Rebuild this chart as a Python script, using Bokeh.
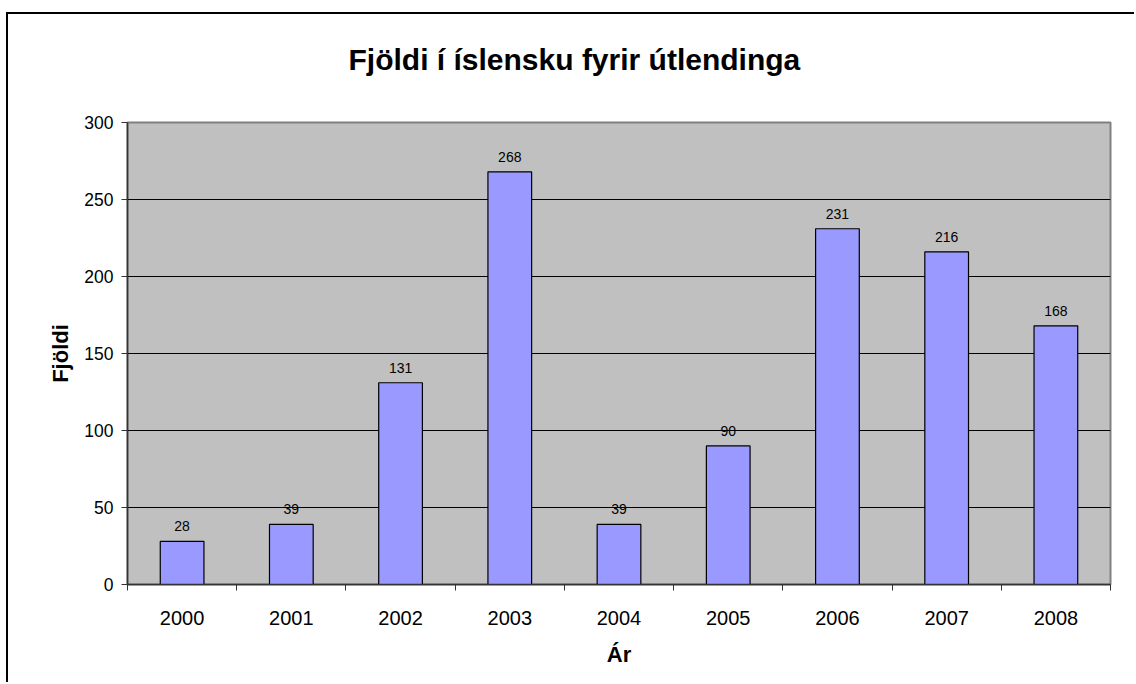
from bokeh.plotting import figure
from bokeh.models import Range1d, FixedTicker, ColumnDataSource, LabelSet, Title
from bokeh.core.properties import value
from bokeh.embed import file_html
from bokeh.resources import INLINE

title_text = "Fjöldi í íslensku fyrir útlendinga"
years = ["2000", "2001", "2002", "2003", "2004", "2005", "2006", "2007", "2008"]
counts = [28, 39, 131, 268, 39, 90, 231, 216, 168]
y_ticks = [0, 50, 100, 150, 200, 250, 300]

xpos = [i + 0.5 for i in range(len(years))]
src = ColumnDataSource(dict(x=xpos, top=counts, label=[str(c) for c in counts]))

p = figure(width=1128, height=670, output_backend="svg", toolbar_location=None,
           x_range=Range1d(0, len(years)), y_range=Range1d(0, 300),
           min_border_left=119, min_border_right=26, min_border_top=108, min_border_bottom=100,
           margin=(12, 0, 0, 6),
           styles={"border-left": "2px solid black", "border-top": "2px solid black"})

p.background_fill_color = "#C0C0C0"
p.border_fill_color = "white"
p.outline_line_color = "#808080"
p.outline_line_width = 2

spacer = Title(text=" ", text_font="Liberation Sans", text_font_size="18px",
               standoff=25, text_color="white")
p.add_layout(spacer, "above")
main_title = Title(text=title_text, text_font="Liberation Sans", text_font_size="30px",
                   text_font_style="bold", text_color="black", align="left",
                   offset=221, standoff=0)
p.add_layout(main_title, "above")

p.vbar(x="x", top="top", width=0.4, bottom=0, source=src,
       fill_color="#9999FF", line_color="black", line_width=1.2)

labels = LabelSet(x="x", y="top", text="label", source=src, text_align="center",
                  text_baseline="bottom", y_offset=10, text_font=value("Liberation Sans"),
                  text_font_size=value("14px"), text_color="black")
p.add_layout(labels)

xt = FixedTicker(ticks=xpos, minor_ticks=list(range(len(years) + 1)))
p.xaxis.ticker = xt
p.xaxis.major_label_overrides = {x: y for x, y in zip(xpos, years)}
p.xaxis.major_tick_out = 0
p.xaxis.major_tick_in = 0
p.xaxis.minor_tick_out = 6
p.xaxis.minor_tick_in = 0
p.xaxis.minor_tick_line_color = "#333333"
p.xaxis.axis_label = "Ár"

p.yaxis.ticker = FixedTicker(ticks=y_ticks)
p.yaxis.major_tick_out = 6
p.yaxis.major_tick_in = 0
p.yaxis.minor_tick_line_color = None
p.yaxis.axis_label = "Fjöldi"

for ax in (p.xaxis, p.yaxis):
    ax.axis_line_color = "#333333"
    ax.axis_line_width = 1.5
    ax.major_tick_line_color = "#333333"
    ax.major_label_text_font = "Liberation Sans"
    ax.major_label_text_color = "black"
    ax.axis_label_text_font = "Liberation Sans"
    ax.axis_label_text_font_size = "22px"
    ax.axis_label_text_font_style = "bold"
    ax.axis_label_text_color = "black"

p.xaxis.major_label_text_font_size = "20px"
p.yaxis.major_label_text_font_size = "17.5px"
p.xaxis.major_label_standoff = 20
p.xaxis.axis_label_standoff = 14
p.yaxis.major_label_standoff = 8
p.yaxis.axis_label_standoff = 8

p.xgrid.grid_line_color = None
p.ygrid.ticker = FixedTicker(ticks=y_ticks[1:-1])
p.ygrid.grid_line_color = "black"
p.ygrid.grid_line_width = 1

open("out.html", "w").write(file_html(p, INLINE))
